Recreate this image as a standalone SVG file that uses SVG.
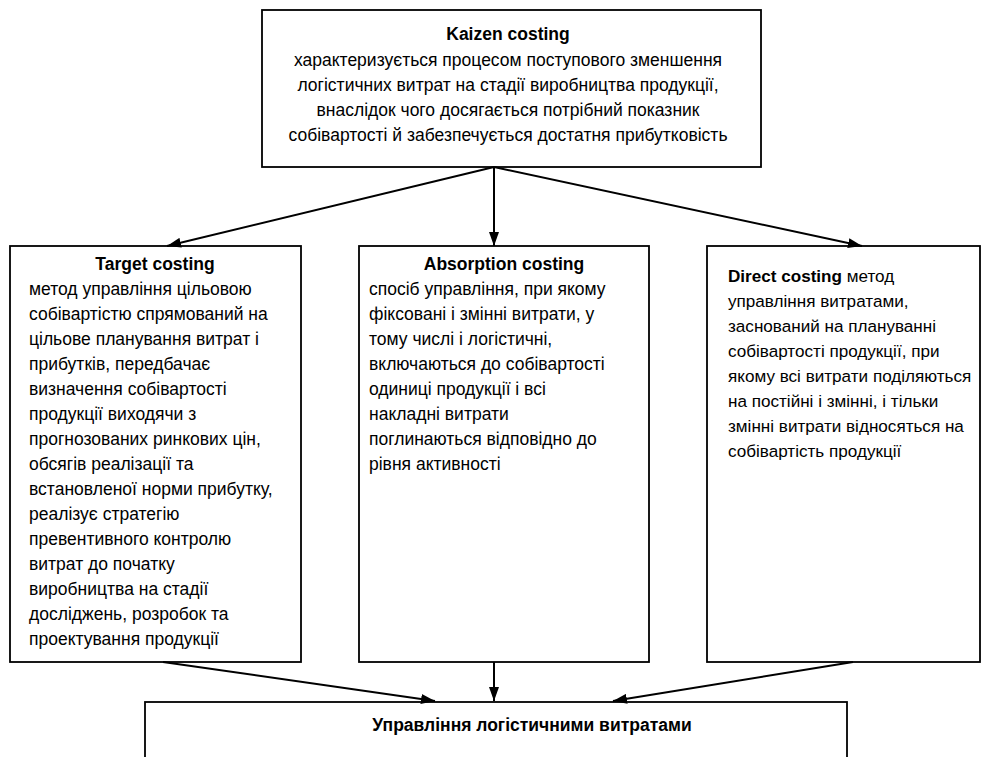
<svg xmlns="http://www.w3.org/2000/svg" width="989" height="757" viewBox="0 0 989 757">
<defs>
<style>
.box{fill:#fff;stroke:#000;stroke-width:1.8}
.t{font-family:"Liberation Sans",Arial,sans-serif;font-size:17.5px;fill:#000}
.s{font-size:17.1px}
.b{font-weight:bold}
.c{text-anchor:middle}
.ln{stroke:#000;stroke-width:2;fill:none;marker-end:url(#ah)}
</style>
<marker id="ah" viewBox="0 0 14 10" refX="14" refY="5" markerWidth="14" markerHeight="10" markerUnits="userSpaceOnUse" orient="auto">
<path d="M0,0 L14,5 L0,10 Z" fill="#000"/>
</marker>
</defs>
<rect width="989" height="757" fill="#fff"/>
<g id="kaizen">
<rect class="box" x="262" y="10" width="499" height="157"/>
<text class="t b c" x="508" y="40">Kaizen costing</text>
<text class="t c" x="508" y="65.5">характеризується процесом поступового зменшення</text>
<text class="t c" x="508" y="91">логістичних витрат на стадії виробництва продукції,</text>
<text class="t c" x="508" y="116">внаслідок чого досягається потрібний показник</text>
<text class="t c" x="508" y="141">собівартості й забезпечується достатня прибутковість</text>
</g>
<g id="target">
<rect class="box" x="10" y="246" width="291" height="416"/>
<text class="t b c" x="155" y="270">Target costing</text>
<text class="t" x="29" y="295">метод управління цільовою</text>
<text class="t" x="29" y="320">собівартістю спрямований на</text>
<text class="t" x="29" y="345">цільове планування витрат і</text>
<text class="t" x="29" y="370">прибутків, передбачає</text>
<text class="t" x="29" y="395">визначення собівартості</text>
<text class="t" x="29" y="420">продукції виходячи з</text>
<text class="t" x="29" y="445">прогнозованих ринкових цін,</text>
<text class="t" x="29" y="470">обсягів реалізації та</text>
<text class="t" x="29" y="495">встановленої норми прибутку,</text>
<text class="t" x="29" y="520">реалізує стратегію</text>
<text class="t" x="29" y="545">превентивного контролю</text>
<text class="t" x="29" y="570">витрат до початку</text>
<text class="t" x="29" y="595">виробництва на стадії</text>
<text class="t" x="29" y="620">досліджень, розробок та</text>
<text class="t" x="29" y="645">проектування продукції</text>
</g>
<g id="absorption">
<rect class="box" x="359" y="246" width="290" height="416"/>
<text class="t b c" x="504" y="270">Absorption costing</text>
<text class="t" x="369" y="295">спосіб управління, при якому</text>
<text class="t" x="369" y="320">фіксовані і змінні витрати, у</text>
<text class="t" x="369" y="345">тому числі і логістичні,</text>
<text class="t" x="369" y="370">включаються до собівартості</text>
<text class="t" x="369" y="395">одиниці продукції і всі</text>
<text class="t" x="369" y="420">накладні витрати</text>
<text class="t" x="369" y="445">поглинаються відповідно до</text>
<text class="t" x="369" y="470">рівня активності</text>
</g>
<g id="direct">
<rect class="box" x="707" y="246" width="273" height="416"/>
<text class="t s" x="728" y="282"><tspan class="b">Direct costing</tspan> метод</text>
<text class="t s" x="728" y="307">управління витратами,</text>
<text class="t s" x="728" y="332">заснований на плануванні</text>
<text class="t s" x="728" y="357">собівартості продукції, при</text>
<text class="t s" x="728" y="382">якому всі витрати поділяються</text>
<text class="t s" x="728" y="407">на постійні і змінні, і тільки</text>
<text class="t s" x="728" y="432">змінні витрати відносяться на</text>
<text class="t s" x="728" y="457">собівартість продукції</text>
</g>
<g id="management">
<rect class="box" x="145" y="702" width="702" height="120"/>
<text class="t b c" x="532" y="731">Управління логістичними витратами</text>
</g>
<g id="connectors">
<line class="ln" x1="494" y1="167" x2="494" y2="246"/>
<line class="ln" x1="494" y1="167" x2="167" y2="246"/>
<line class="ln" x1="494" y1="167" x2="862" y2="246"/>
<line class="ln" x1="163" y1="662" x2="435" y2="701"/>
<line class="ln" x1="494" y1="662" x2="494" y2="701"/>
<line class="ln" x1="853" y1="662" x2="613" y2="701"/>
</g>
</svg>
